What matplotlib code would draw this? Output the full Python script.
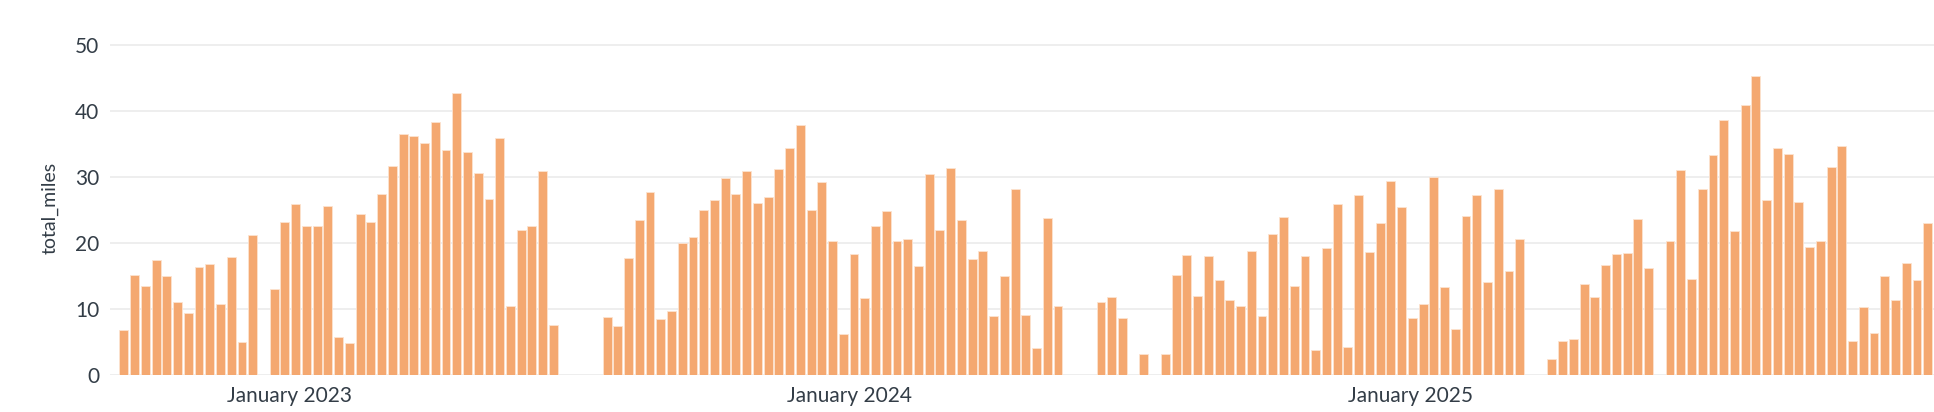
import numpy as np
import pandas as pd
import matplotlib.pyplot as plt
import matplotlib.dates as mdates

nan = np.nan
# weekly totals (NaN = no data that week)
group_a = [6.8, 15.1, 13.5, 17.4, 15.0, 11.0, 9.3, 16.4, 16.8, 10.7, 17.8, 5.0, 21.1, nan,
           13.0, 23.1, 25.8, 22.5, 22.5, 25.5, 5.7, 4.9, 24.4, 23.2, 27.4, 31.6, 36.5, 36.1,
           35.1, 38.3, 34.1, 42.6, 33.7, 30.5, 26.6, 35.9, 10.4, 21.9, 22.5, 30.8, 7.6]
gap_a = [nan] * 4
group_b = [8.7, 7.4, 17.7, 23.4, 27.7, 8.4, 9.7, 20.0, 20.8, 25.0, 26.4, 29.8, 27.4, 30.9,
           26.0, 26.9, 31.2, 34.4, 37.8, 24.9, 29.2, 20.3, 6.2, 18.3, 11.6, 22.6, 24.8, 20.3,
           20.5, 16.5, 30.4, 21.9, 31.3, 23.5, 17.6, 18.8, 8.9, 14.9, 28.1, 9.1, 4.0, 23.7, 10.5]
gap_b = [nan] * 3
group_c = [11.1, 11.8, 8.6, nan, 3.1, nan, 3.1, 15.1, 18.2, 12.0, 18.0, 14.3, 11.4, 10.4,
           18.7, 8.9, 21.4, 23.9, 13.5, 18.0, 3.7, 19.2, 25.9, 4.2, 27.2, 18.6, 23.0, 29.3,
           25.4, 8.6, 10.7, 30.0, 13.3, 7.0, 24.1, 27.2, 14.0, 28.1, 15.8, 20.6]
gap_c = [nan] * 2
group_d = [2.4, 5.1, 5.4, 13.7, 11.8, 16.6, 18.3, 18.5, 23.6, 16.2, nan, 20.2, 31.0, 14.5,
           28.1, 33.3, 38.5, 21.8, 40.9, 45.3, 26.5, 34.4, 33.4, 26.2, 19.4, 20.2, 31.4, 34.6,
           5.2, 10.3, 6.4, 15.0, 11.3, 17.0, 14.3, 23.0]

total_miles = group_a + gap_a + group_b + gap_b + group_c + gap_c + group_d
weeks = pd.date_range("2022-09-12", periods=len(total_miles), freq="7D")
tick_dates = pd.to_datetime(["2023-01-01", "2024-01-01", "2025-01-01"])
tick_labels = ["January 2023", "January 2024", "January 2025"]

plt.rcParams['font.family'] = ['Lato', 'DejaVu Sans']
fig = plt.figure(figsize=(19.34, 4.12), dpi=100)
ax = fig.add_axes([0.057, 0.09, 0.943, 0.81])

ax.bar(weeks, total_miles, width=5.8, color='#F4A870', edgecolor='#FCE3D0',
       linewidth=0.6, align='edge', zorder=2)

ax.set_xlim(weeks[0] - pd.Timedelta(days=6), weeks[-1] + pd.Timedelta(days=7))
ax.set_ylim(0, 50.5)
ax.set_yticks([0, 10, 20, 30, 40, 50])
ax.set_xticks(tick_dates)
ax.set_xticklabels(tick_labels)
ax.grid(axis='y', color='#EBEBEB', linewidth=1.2, zorder=0)
ax.tick_params(length=0, labelsize=15, colors='#333D47', pad=8)
ax.set_ylabel('total_miles', fontsize=14, color='#333D47', labelpad=12)
for s in ax.spines.values():
    s.set_visible(False)

fig.savefig('out.png', dpi=100)
